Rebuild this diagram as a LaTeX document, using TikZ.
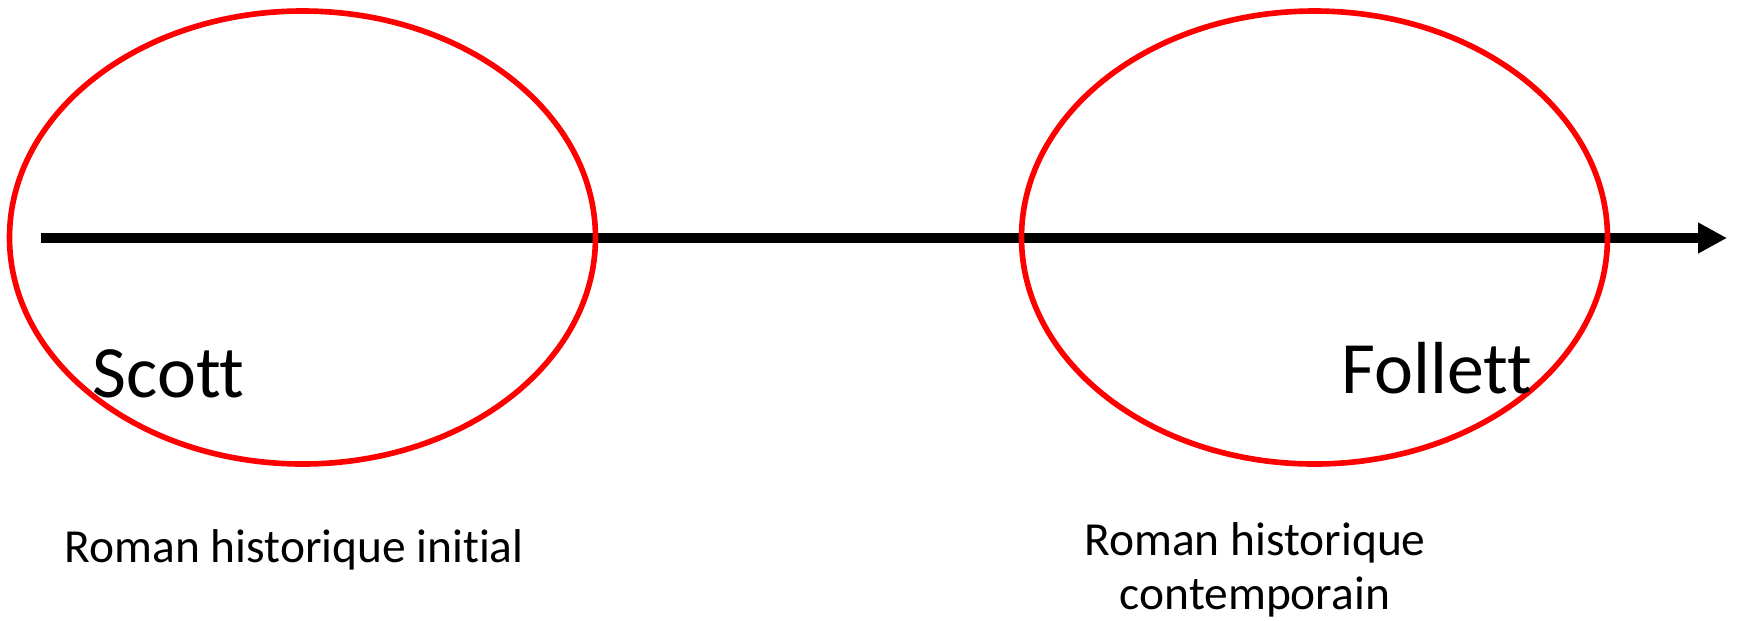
\documentclass[tikz,border=0pt]{standalone}
\usepackage{fontspec}
\setmainfont{Carlito}[Ligatures=NoCommon]
\usetikzlibrary{arrows.meta,positioning,shapes.geometric}

\begin{document}
\begin{tikzpicture}[>={Triangle[length=0.29cm,width=0.29cm]},
  era/.style={draw=red, line width=1.6pt, ellipse, inner sep=0pt, minimum width=5.86cm, minimum height=4.53cm},
  author/.style={font=\fontsize{21}{24}\selectfont, inner sep=0pt},
  caption/.style={font=\fontsize{13.5}{15.1}\selectfont, align=center, inner sep=0pt}]
  \useasboundingbox (0,0) rectangle (17.38,-6.20);
  % time axis
  \coordinate (t0) at (0.41,-2.38);
  \coordinate (t1) at (17.27,-2.38);
  \draw[->, line width=2.85pt] (t0) -- (t1);
  % the two periods
  \node[era] (early) at (3.025,-2.375) {};
  \node[era] (late) at (13.145,-2.375) {};
  \node[author, anchor=base west] (scott) at (0.92,-3.97) {Scott};
  \node[author, anchor=base west] (follett) at (13.41,-3.93) {Follett};
  \node[caption, anchor=base west] (initial) at (0.64,-5.62) {Roman historique initial};
  \node[caption, anchor=base] (modern) at (12.55,-6.09) {Roman historique\\contemporain};
\end{tikzpicture}
\end{document}
